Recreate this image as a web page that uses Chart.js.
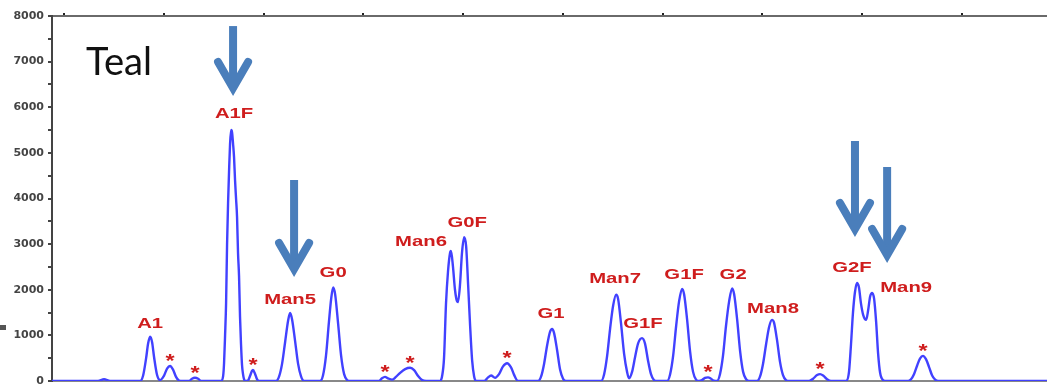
<!DOCTYPE html>
<html><head><meta charset="utf-8">
<script src="https://cdn.jsdelivr.net/npm/chart.js@4.4.1/dist/chart.umd.min.js"></script>
<style>
html,body{margin:0;padding:0;background:#fff;overflow:hidden;}
#wrap{position:relative;width:1047px;height:384px;overflow:hidden;background:#fff;}
canvas{position:absolute;left:0;top:0;}
#mark{position:absolute;left:0;top:325px;width:6px;height:5px;background:#555;}
</style></head><body>
<div id="wrap"><canvas id="c" width="1047" height="400"></canvas><div id="mark"></div></div>
<script>
// Retention time (min) and detector signal
const retentionTime = [
4.38, 6.69, 6.99, 7.29,
8.80, 8.95, 9.10, 9.20, 9.30, 9.40, 9.50, 9.65, 9.80,
10.00, 10.15, 10.30, 10.45, 10.60, 10.75, 10.90,
11.25, 11.40, 11.55, 11.71, 11.86,
12.86, 12.96, 13.01, 13.06, 13.11, 13.16, 13.21, 13.26, 13.31, 13.36, 13.41, 13.46, 13.51, 13.56, 13.61, 13.66, 13.71, 13.76, 13.81, 13.86, 13.91, 13.96, 14.01, 14.06,
14.21, 14.31, 14.41, 14.46, 14.56, 14.66, 14.76,
15.62, 15.77, 15.92, 16.07, 16.22, 16.32, 16.42, 16.57, 16.72, 16.87, 17.02,
17.82, 17.97, 18.12, 18.27, 18.38, 18.48, 18.58, 18.73, 18.88, 19.03, 19.18, 19.33,
20.78, 20.93, 21.08, 21.23, 21.43, 21.63, 21.84, 22.09, 22.34, 22.54, 22.74, 22.94, 23.14,
23.84, 23.94, 24.04, 24.14, 24.24, 24.34, 24.39, 24.49, 24.59, 24.69, 24.74, 24.84, 24.94, 25.05, 25.15, 25.25, 25.35, 25.45, 25.55, 25.65,
26.05, 26.25, 26.40, 26.60, 26.80, 27.00, 27.20, 27.40, 27.55, 27.75,
28.76, 28.91, 29.06, 29.21, 29.36, 29.46, 29.56, 29.71, 29.86, 30.01, 30.16,
31.92, 32.07, 32.22, 32.37, 32.52, 32.67, 32.77, 32.92, 33.07, 33.22, 33.32, 33.47, 33.62, 33.77, 33.97, 34.12, 34.27, 34.42, 34.57, 34.72,
35.23, 35.38, 35.53, 35.68, 35.83, 35.98, 36.08, 36.23, 36.38, 36.53, 36.68, 36.83,
36.98, 37.13, 37.28, 37.43, 37.58,
37.73, 37.88, 38.03, 38.18, 38.34, 38.49, 38.59, 38.74, 38.89, 39.04, 39.19, 39.34,
39.74, 39.89, 40.04, 40.19, 40.34, 40.49, 40.59, 40.74, 40.89, 41.04, 41.19, 41.34,
42.35, 42.55, 42.75, 42.90, 43.05, 43.25, 43.45,
44.20, 44.35, 44.45, 44.55, 44.65, 44.75, 44.85, 44.95, 45.06, 45.21, 45.31, 45.41, 45.51, 45.61, 45.71, 45.81, 45.91, 46.06, 46.21,
47.31, 47.46, 47.61, 47.76, 47.91, 48.06, 48.21, 48.37, 48.52, 48.67, 48.82,
54.28
];
const signal = [
0, 0, 40, 0,
0, 120, 500, 820, 970, 850, 520, 130, 20,
120, 270, 330, 250, 90, 10, 0,
0, 50, 70, 50, 0,
0, 100, 400, 1000, 1700, 3000, 3900, 4600, 5200, 5500, 5450, 5200, 4900, 4400, 4000, 3600, 2800, 2300, 1400, 800, 350, 150, 40, 0,
10, 110, 220, 240, 160, 40, 0,
0, 100, 380, 850, 1320, 1490, 1350, 880, 380, 100, 0,
0, 120, 550, 1300, 1800, 2050, 1900, 1250, 550, 150, 20, 0,
0, 60, 90, 60, 30, 90, 180, 260, 290, 240, 110, 20, 0,
0, 100, 500, 1700, 2400, 2800, 2850, 2500, 2000, 1750, 1730, 2100, 2800, 3150, 2950, 2100, 1200, 450, 100, 0,
0, 80, 120, 70, 150, 320, 390, 300, 140, 0,
0, 100, 380, 780, 1080, 1140, 1050, 680, 250, 50, 0,
0, 150, 550, 1150, 1650, 1890, 1800, 1250, 600, 200, 60, 200, 520, 820, 940, 820, 450, 150, 20, 0,
0, 150, 550, 1200, 1750, 2020, 1900, 1350, 650, 200, 30, 0,
20, 70, 80, 50, 5,
0, 150, 550, 1200, 1750, 2030, 1900, 1350, 650, 200, 40, 0,
0, 100, 380, 800, 1180, 1340, 1280, 900, 420, 130, 20, 0,
0, 50, 130, 150, 120, 40, 0,
0, 200, 800, 1500, 1950, 2150, 2050, 1700, 1450, 1340, 1550, 1850, 1930, 1800, 1300, 600, 180, 20, 0,
0, 40, 150, 330, 490, 550, 480, 300, 120, 30, 0,
0
];
// Named peaks
const peakNames = ['A1', 'A1F', 'Man5', 'G0', 'Man6', 'G0F', 'G1', 'Man7', 'G1F', 'G1F', 'G2', 'Man8', 'G2F', 'Man9'];
const peakTimes = [9.30, 13.36, 16.32, 18.48, 24.39, 25.05, 29.46, 32.67, 33.97, 35.98, 38.49, 40.49, 44.75, 45.51];
// Unassigned peaks marked with *
const impurityTimes = [10.30, 11.55, 14.46, 21.08, 22.34, 27.20, 37.28, 42.90, 48.06];
// Peaks highlighted with arrows
const arrowPeaks = ['A1F', 'Man5', 'G2F', 'Man9'];
const yTickLabels = ['0', '1000', '2000', '3000', '4000', '5000', '6000', '7000', '8000'];
const sampleName = 'Teal';

// ---- styles (label offsets in px) ----
const labelStyle = {
  dx:  [0, 3, 0, 0, -30, 3, -1, -1, 1, 2, 1, 1, -5, 34],
  gap: [9, 12, 9, 10, 5, 10, 11, 12, 10, 10, 9, 7, 11, 1]
};
const arrowStyle = {
  dx:  [2, 4, -2, 15],
  gap: [34, 36, 46, 30],
  len: [70, 97, 96, 96]
};

const valueAt = t => signal[retentionTime.indexOf(t)];

const annotPlugin = {
  id: 'annot',
  afterDatasetsDraw(chart) {
    const ctx = chart.ctx;
    const xs = chart.scales.x, ys = chart.scales.y;
    ctx.save();
    // peak labels
    ctx.fillStyle = '#cf1d1d';
    ctx.font = 'bold 14px "Liberation Sans", Arial, sans-serif';
    ctx.textAlign = 'center';
    ctx.textBaseline = 'alphabetic';
    peakNames.forEach((n, i) => {
      const t = peakTimes[i];
      const px = xs.getPixelForValue(t) + labelStyle.dx[i];
      const py = ys.getPixelForValue(valueAt(t)) - labelStyle.gap[i];
      ctx.save(); ctx.translate(px, py); ctx.scale(1.45, 1); ctx.fillText(n, 0, 0); ctx.restore();
    });
    // asterisks
    ctx.font = 'bold 18px "Liberation Sans", Arial, sans-serif';
    impurityTimes.forEach(t => {
      const px = xs.getPixelForValue(t);
      const cy = ys.getPixelForValue(valueAt(t)) - 9.5;
      ctx.save(); ctx.translate(px, cy + 10.4); ctx.scale(1.3, 1); ctx.fillText('*', 0, 0); ctx.restore();
    });
    // arrows
    ctx.strokeStyle = '#4a7ebb';
    ctx.lineWidth = 8;
    arrowPeaks.forEach((n, i) => {
      const t = peakTimes[peakNames.indexOf(n)];
      const cx = xs.getPixelForValue(t) + arrowStyle.dx[i];
      const tip = ys.getPixelForValue(valueAt(t)) - arrowStyle.gap[i];
      const top = tip - arrowStyle.len[i];
      ctx.lineCap = 'butt';
      ctx.beginPath(); ctx.moveTo(cx, top); ctx.lineTo(cx, tip - 10); ctx.stroke();
      ctx.lineJoin = 'miter'; ctx.miterLimit = 10;
      ctx.lineCap = 'round';
      ctx.beginPath();
      ctx.moveTo(cx - 15, tip - 34);
      ctx.lineTo(cx, tip - 8);
      ctx.lineTo(cx + 15, tip - 34);
      ctx.stroke();
    });
    // sample name
    ctx.fillStyle = '#111';
    ctx.textAlign = 'left';
    ctx.font = '39px Lato, "Open Sans", sans-serif';
    const w = ctx.measureText(sampleName).width;
    const ca = chart.chartArea;
    ctx.save(); ctx.translate(ca.left + 34, ca.top + 59); ctx.scale(66 / w, 1); ctx.fillText(sampleName, 0, 0); ctx.restore();
    ctx.restore();
  }
};

const points = retentionTime.map((t, i) => ({ x: t, y: signal[i] }));
const xCommon = { type: 'linear', min: 4.38, max: 54.28 };

new Chart(document.getElementById('c'), {
  type: 'line',
  data: { datasets: [{ data: points, borderColor: '#4141ff', borderWidth: 2.4, pointRadius: 0, cubicInterpolationMode: 'monotone', fill: false }] },
  options: {
    responsive: false, animation: false, events: [],
    layout: { padding: 0 },
    plugins: { legend: { display: false }, tooltip: { enabled: false }, title: { display: false } },
    scales: {
      x: Object.assign({}, xCommon, {
        position: 'bottom',
        ticks: { display: false, stepSize: 5, includeBounds: false },
        grid: { drawOnChartArea: false, drawTicks: false, tickLength: 0 },
        border: { color: '#888', width: 2 },
        afterFit: s => { s.height = 19; }
      }),
      xTop: Object.assign({}, xCommon, {
        axis: 'x', position: 'top',
        ticks: { display: false, stepSize: 5, includeBounds: false },
        grid: { drawOnChartArea: false, tickLength: 3, color: '#222', lineWidth: 2 },
        border: { color: '#6a6a6a', width: 2 },
        afterFit: s => { s.height = 16; }
      }),
      y: {
        min: 0, max: 8000, position: 'left',
        ticks: {
          stepSize: 500, padding: 4, color: '#444',
          font: { family: '"DejaVu Sans", sans-serif', weight: 'bold', size: 11 },
          callback: v => (v % 1000 === 0 ? yTickLabels[v / 1000] : '')
        },
        grid: { drawOnChartArea: false, tickLength: 4, color: '#444', lineWidth: 2 },
        border: { color: '#444', width: 2 },
        afterFit: s => { s.width = 52; }
      }
    }
  },
  plugins: [annotPlugin]
});
</script>
</body></html>
